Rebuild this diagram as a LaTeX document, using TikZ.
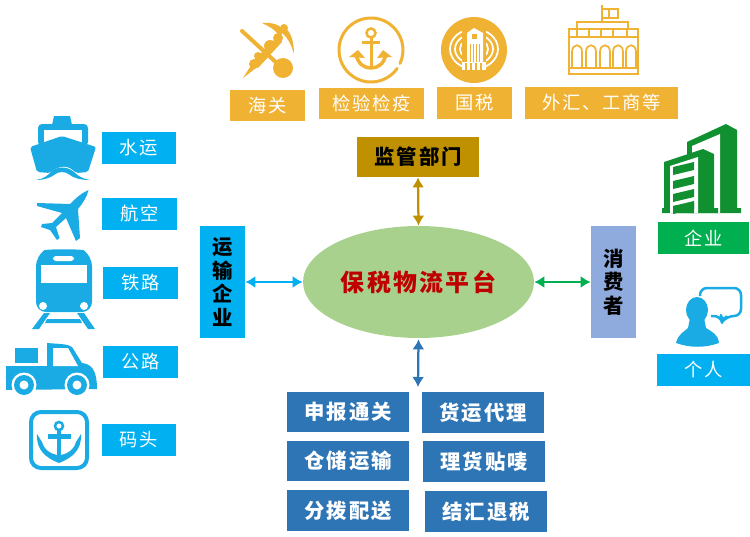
\documentclass[tikz,border=0pt]{standalone}
\usepackage{fontspec}
\setmainfont[LetterSpace=10]{Noto Sans CJK SC}
\usetikzlibrary{arrows.meta,shapes.geometric}
\definecolor{skyblue}{HTML}{00B0F0}
\definecolor{iconblue}{HTML}{1AABE4}
\definecolor{gold}{HTML}{F0B233}
\definecolor{brown}{HTML}{BF9000}
\definecolor{steel}{HTML}{2E75B6}
\definecolor{lilac}{HTML}{8FAADC}
\definecolor{leaf}{HTML}{A9D18E}
\definecolor{green}{HTML}{00B050}
\definecolor{darkgreen}{HTML}{109030}
\tikzset{
  tag/.style={text=white, inner sep=0pt, minimum height=0.64cm, font=\fontsize{10.4}{12}\selectfont},
  skytag/.style={tag, fill=skyblue, minimum width=1.5cm},
  goldtag/.style={tag, fill=gold},
  boldbox/.style={inner sep=0pt, font=\fontsize{11.6}{13.4}\selectfont\bfseries, align=center},
  servicebox/.style={boldbox, fill=steel, text=white, minimum width=2.44cm, minimum height=0.81cm},
  link/.style={{Latex[length=0.2cm,width=0.24cm]}-{Latex[length=0.2cm,width=0.24cm]}, line width=0.045cm}
}
\begin{document}
\begin{tikzpicture}[x=0.02cm, y=-0.02cm]
    \useasboundingbox (0,0) rectangle (750,537);

    % Center and the four groups
    \node[ellipse, fill=leaf, minimum width=4.62cm, minimum height=2.24cm, inner sep=0pt, text=red!75!black,
      font=\fontsize{13.6}{16}\selectfont\bfseries] (platform) at (418.5,282) {保税物流平台};
    \node[boldbox, fill=brown, minimum width=2.44cm, minimum height=0.8cm] (regulator) at (418,157) {监管部门};
    \node[boldbox, fill=skyblue, minimum width=0.9cm, minimum height=2.24cm] (carrier) at (222.5,282) {运\\输\\企\\业};
    \node[boldbox, fill=lilac, minimum width=0.9cm, minimum height=2.24cm] (consumer) at (613.5,282) {消\\费\\者};
    \coordinate (serviceend) at (418,387);

    % Arrows
    \draw[link, brown] (regulator.south) -- (platform.north);
    \draw[link, skyblue] (carrier.east) -- (platform.west);
    \draw[link, green] (platform.east) -- (consumer.west);
    \draw[link, steel] ([yshift=-0.02cm]platform.south) -- (serviceend);

    % Service boxes
    \node[servicebox] (declare) at (348,412) {申报通关};
    \node[servicebox] (agent) at (483,412.5) {货运代理};
    \node[servicebox] (storage) at (348,461) {仓储运输};
    \node[servicebox] (label) at (484,461.5) {理货贴唛};
    \node[servicebox] (delivery) at (348,510.5) {分拨配送};
    \node[servicebox] (settle) at (486,511.5) {结汇退税};

    % Left labels
    \node[skytag] (water) at (139,148) {水运};
    \node[skytag] (air) at (139.5,214) {航空};
    \node[skytag] (rail) at (140.5,283) {铁路};
    \node[skytag] (road) at (140.5,362) {公路};
    \node[skytag] (port) at (139,439.5) {码头};

    % Top labels
    \node[goldtag, minimum width=1.5cm] (customs) at (267.5,105.5) {海关};
    \node[goldtag, minimum width=2.1cm] (inspect) at (371.5,103.5) {检验检疫};
    \node[goldtag, minimum width=1.5cm] (tax) at (474.5,103) {国税};
    \node[goldtag, minimum width=3.06cm] (forex) at (601.5,103) {外汇、工商等};

    % Right labels
    \node[tag, fill=green, minimum width=1.82cm] (company) at (703.5,238) {企业};
    \node[skytag, minimum width=1.86cm] (person) at (703.5,370) {个人};

    % Ship
    \fill[iconblue] (54,116) -- (70,116) -- (72,125) -- (52,125) -- cycle;
    \fill[iconblue, rounded corners=0.08cm] (38,146) -- (38,124) -- (88,124) -- (88,146) -- cycle;
    \fill[white] (44,130) rectangle (82,150);
    \fill[iconblue, rounded corners=0.04cm] (30,147) -- (62,136) -- (96,147) -- (88,172) -- (76,173)
      .. controls (68,165) and (60,165) .. (50,173) -- (37,172) -- cycle;
    \fill[white] (50,173) .. controls (57,166) and (67,166) .. (76,173) -- (76,175) -- (50,175) -- cycle;
    \fill[iconblue] (35,180) .. controls (44,179) and (47,176) .. (51,172) .. controls (57,166) and (67,166) .. (74,172)
      .. controls (78,176) and (83,179) .. (90,180) .. controls (80,180) and (74,178) .. (70,175)
      .. controls (65,171) and (59,171) .. (54,175) .. controls (50,178) and (44,180) .. (35,180) -- cycle;

    % Plane
    \fill[iconblue] (88.5,190) .. controls (80,194) and (76,198) .. (70,204) -- (37,203) -- (37,206) -- (62,213)
      -- (52,223) -- (42,224) -- (41,227) -- (50,230) -- (57,240) -- (59.5,238) -- (56,227) -- (66,218)
      -- (76,241) -- (80,238) -- (78,209) .. controls (83,203) and (87,197) .. (88.5,190) -- cycle;

    % Train
    \fill[iconblue, rounded corners=0.2cm] (36,312) -- (36,256) .. controls (46,249) and (82,249) .. (92,256) -- (92,312) -- cycle;
    \fill[white, rounded corners=0.06cm] (53,256) rectangle (74,261);
    \fill[white] (41,265) rectangle (87,283);
    \fill[white] (43,306) circle (4);
    \fill[white] (84,306) circle (4);
    \fill[iconblue] (32,329) -- (39,329) -- (50,313) -- (44,313) -- cycle;
    \fill[iconblue] (95,329) -- (88,329) -- (77,313) -- (84,313) -- cycle;
    \fill[iconblue] (47,319) -- (80,319) -- (82,323) -- (45,323) -- cycle;

    % Truck
    \fill[iconblue] (15,348) rectangle (38,363);
    \fill[iconblue] (6,366) -- (47,366) -- (47,343) .. controls (60,344) and (68,344) .. (72,347)
      -- (82,363) .. controls (90,364) and (97,368) .. (97,389) -- (6,390) -- cycle;
    \fill[white] (53,348) -- (68,348) -- (78,366) -- (53,366) -- cycle;
    \fill[white] (24,385) circle (12.5);
    \fill[iconblue] (24,385) circle (10);
    \fill[white] (24,385) circle (4.5);
    \fill[white] (77,385) circle (12.5);
    \fill[iconblue] (77,385) circle (10);
    \fill[white] (77,385) circle (4.5);

    % Port anchor
    \draw[iconblue, line width=0.08cm, rounded corners=0.2cm] (31,412) rectangle (87,468);
    \draw[iconblue, line width=0.05cm] (59,426) circle (4);
    \fill[iconblue] (57,430) rectangle (61,460);
    \fill[iconblue] (48,434) rectangle (71,439);
    \fill[iconblue] (37,434) -- (42,442) .. controls (44,450) and (52,455) .. (59,455)
      .. controls (66,455) and (74,450) .. (76,442) -- (81,434) .. controls (82,450) and (72,458) .. (59,463)
      .. controls (46,458) and (36,450) .. (37,434) -- cycle;

    % Customs staff
    \draw[gold, line width=0.08cm, line cap=round] (242,31) -- (280,66);
    \fill[gold] (283,68) circle (10);
    \fill[gold] (243,78) -- (252,64) -- (256,68) -- cycle;
    \fill[gold] (254,64) circle (5);
    \fill[gold] (258,56) circle (4);
    \fill[gold] (252,62) -- (277,37) -- (282,42) -- (258,68) -- cycle;
    \fill[gold] (270,46) circle (6);
    \fill[gold] (278,38) circle (5);
    \fill[gold] (284,28) circle (4);
    \fill[gold] (262,23) .. controls (272,22) and (282,25) .. (284,32) -- (279,36) .. controls (276,30) and (270,27) .. (262,23) -- cycle;
    \fill[gold] (294,54) .. controls (294,44) and (292,32) .. (284,27) -- (282,33) .. controls (288,38) and (291,44) .. (294,54) -- cycle;

    % Inspection anchor
    \draw[gold, line width=0.06cm, line cap=round] (371,50) ++ (35:32) arc[start angle=35, end angle=385, radius=32];
    \draw[gold, line width=0.05cm] (371,33) circle (4.5);
    \fill[gold] (369.5,37) rectangle (372.5,68);
    \fill[gold] (362,41) rectangle (380,44.5);
    \draw[gold, line width=0.07cm] (356,54) .. controls (358,64) and (364,68) .. (371,68) .. controls (378,68) and (384,64) .. (386,54);
    \fill[gold] (349,57) -- (358,50) -- (365,58) -- cycle;
    \fill[gold] (392,57) -- (383,50) -- (377,58) -- cycle;

    % Tax emblem
    \fill[gold] (474,50) circle (33);
    \draw[white, line width=0.035cm] (474,49) ellipse (24 and 20);
    \draw[white, line width=0.035cm] (474,49) ellipse (19 and 15);
    \draw[white, line width=0.035cm] (474,49) ellipse (14 and 11);
    \fill[gold] (462,26) rectangle (486,68);
    \fill[white] (467,40) -- (467,33) -- (474,28) -- (483,33) -- (483,68) -- (467,68) -- cycle;
    \foreach \xi in {470,473,476,479}
      \draw[gold, line width=0.015cm] (\xi,44) -- (\xi,68);
    \fill[gold] (472,34) rectangle (477,39);
    \fill[white] (462,62) -- (486,62) -- (486,70) -- (462,70) -- cycle;
    \foreach \xi in {465,470,475,480}
      \fill[gold] (\xi,63) rectangle (\xi+2,70);

    % Government hall
    \draw[gold, line width=0.04cm] (569,29) rectangle (638,74);
    \draw[gold, line width=0.04cm] (577,29) -- (577,22) -- (628,22) -- (628,29);
    \draw[gold, line width=0.04cm] (569,37) -- (638,37);
    \draw[gold, line width=0.04cm] (602,22) -- (602,5);
    \draw[gold, line width=0.035cm] (602,9) -- (618,9) -- (618,18) -- (602,18);
    \draw[gold, line width=0.03cm] (609,9) rectangle (618,18);
    \foreach \xi in {577,589,601,613,627}
      \draw[gold, line width=0.035cm] (\xi,29) -- (\xi,37);
    \foreach \xi in {575,589,603,616,629}
      \draw[gold, line width=0.035cm] (\xi-3,68) -- (\xi-3,52) .. controls (\xi-3,43) and (\xi+7,43) .. (\xi+7,52) -- (\xi+7,68);
    \draw[gold, line width=0.035cm] (569,68) -- (638,68);

    % Company building
    \fill[darkgreen] (687,142) -- (726,124) -- (737,130) -- (737,208) -- (741,208) -- (741,213) -- (687,213) -- cycle;
    \fill[white] (692,146) -- (720,134) -- (720,213) -- (692,213) -- cycle;
    \fill[darkgreen] (664,162) -- (703,149) -- (714,154) -- (714,208) -- (718,208) -- (718,213) -- (662,213) -- (662,208) -- (664,208) -- cycle;
    \fill[white] (670,166) -- (698,157) -- (698,213) -- (670,213) -- cycle;
    \foreach \yi in {167,181,194,206}
      \fill[darkgreen] (673,\yi) -- (694,\yi-5) -- (694,\yi+3) -- (673,\yi+8) -- cycle;
    \fill[darkgreen] (673,206) -- (694,203) -- (694,213) -- (673,213) -- cycle;

    % Person with speech bubble
    \fill[iconblue] (697,310) ellipse (11 and 13);
    \fill[iconblue] (690,318) -- (704,318) -- (706,328) .. controls (712,332) and (718,334) .. (719,343)
      .. controls (705,348) and (690,348) .. (676,343) .. controls (678,334) and (684,332) .. (688,328) -- cycle;
    \draw[iconblue, line width=0.05cm, rounded corners=0.14cm, line join=round]
      (700,296) -- (700,288) -- (741,288) -- (741,316) -- (727,316) -- (722,322) -- (721,316) -- (711,316);
\end{tikzpicture}
\end{document}
